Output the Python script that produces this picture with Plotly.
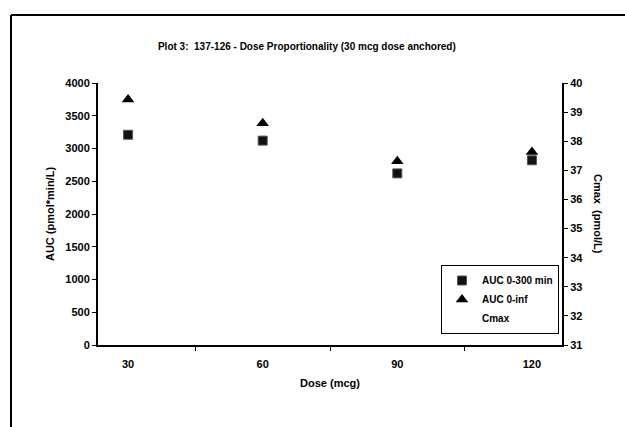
import plotly.graph_objects as go

doses = ["30", "60", "90", "120"]
auc_0_300 = [3210, 3120, 2620, 2820]
auc_0_inf = [3750, 3385, 2805, 2945]
cmax = [None, None, None, None]

left_ticks = [0, 500, 1000, 1500, 2000, 2500, 3000, 3500, 4000]
right_ticks = [31, 32, 33, 34, 35, 36, 37, 38, 39, 40]

FONT = "Liberation Sans"

fig = go.Figure()
fig.add_trace(go.Scatter(
    x=doses, y=auc_0_300, mode="markers", name="AUC 0-300 min",
    marker=dict(symbol="square", size=9, color="#111111",
                line=dict(color="#555555", width=1)),
))
fig.add_trace(go.Scatter(
    x=doses, y=auc_0_inf, mode="markers", name="AUC 0-inf",
    marker=dict(symbol="triangle-up", size=11, color="black"),
))
fig.add_trace(go.Scatter(
    x=doses, y=cmax, mode="markers", name="Cmax", yaxis="y2",
    marker=dict(symbol="circle", size=1, color="white", opacity=0),
))

bold = dict(family=FONT, size=11, color="black", weight="bold")

axis_common = dict(
    showline=True, linecolor="black", linewidth=2, showgrid=False,
    zeroline=False, ticks="outside", tickcolor="black", ticklen=4,
    tickwidth=1, tickfont=bold,
)

fig.update_layout(
    width=625, height=427,
    margin=dict(l=98, r=63, t=83, b=82),
    paper_bgcolor="white", plot_bgcolor="white",
    font=dict(family=FONT, size=11, color="black"),
    title=dict(
        text="Plot 3:  137-126 - Dose Proportionality (30 mcg dose anchored)",
        x=0.491, xanchor="center", y=1 - 46 / 427, yanchor="middle",
        font=dict(family=FONT, size=10, color="black", weight="bold"),
    ),
    xaxis=dict(
        type="category", categoryorder="array", categoryarray=doses,
        tickson="boundaries", ticklabelstandoff=8,
        title=dict(text="Dose (mcg)", standoff=10, font=bold),
        **axis_common,
    ),
    yaxis=dict(
        range=[0, 4000], tickvals=left_ticks,
        title=dict(text="AUC (pmol*min/L)", standoff=8, font=bold),
        **axis_common,
    ),
    yaxis2=dict(
        range=[31, 40], tickvals=right_ticks,
        overlaying="y", side="right",
        **axis_common,
    ),
    legend=dict(
        x=(441 - 98) / 464, y=(345 - 265) / 262, xanchor="left", yanchor="top",
        bordercolor="black", borderwidth=1, bgcolor="white",
        font=dict(family=FONT, size=10, color="black", weight="bold"),
        itemwidth=30, tracegroupgap=4,
    ),
    showlegend=True,
    annotations=[dict(
        text="Cmax  (pmol/L)", textangle=90,
        xref="paper", yref="paper", x=(598 - 98) / 464, y=0.5,
        xanchor="center", yanchor="middle", showarrow=False,
        font=bold,
    )],
    shapes=[
        dict(type="line", xref="paper", yref="paper",
             x0=(11 - 98) / 464, x1=(11 - 98) / 464,
             y0=(345 - 15) / 262, y1=(345 - 430) / 262,
             line=dict(color="black", width=2)),
        dict(type="line", xref="paper", yref="paper",
             x0=(11 - 98) / 464, x1=(630 - 98) / 464,
             y0=(345 - 15) / 262, y1=(345 - 15) / 262,
             line=dict(color="black", width=2)),
    ],
)

fig.write_html("out.html")
